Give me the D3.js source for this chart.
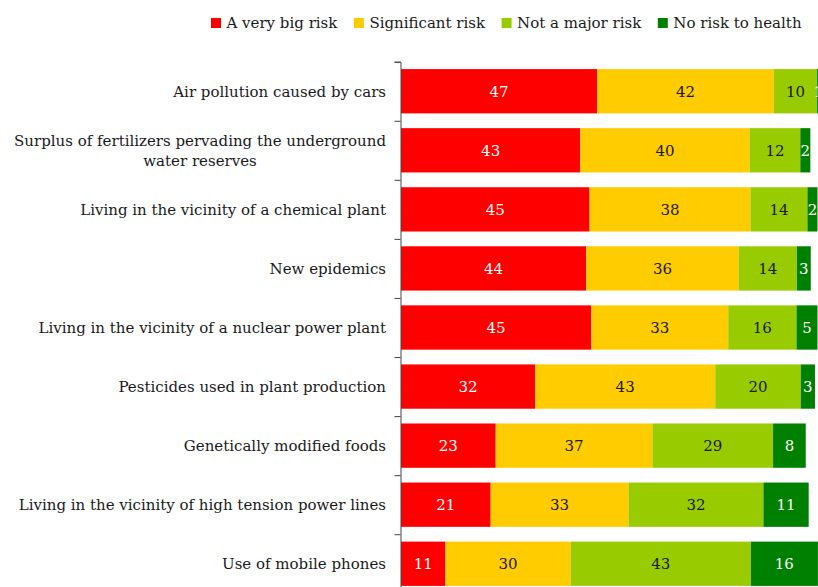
<!DOCTYPE html>
<html>
<head>
<meta charset="utf-8">
<script src="https://cdn.jsdelivr.net/npm/d3@7"></script>
<style>
  html, body { margin: 0; padding: 0; background: #fff; }
  svg { display: block; font-family: "DejaVu Serif", Georgia, serif; }
</style>
</head>
<body>
<svg id="chart" width="818" height="587"></svg>
<script>
const categories = [
  ["Air pollution caused by cars"],
  ["Surplus of fertilizers pervading the underground", "water reserves"],
  ["Living in the vicinity of a chemical plant"],
  ["New epidemics"],
  ["Living in the vicinity of a nuclear power plant"],
  ["Pesticides used in plant production"],
  ["Genetically modified foods"],
  ["Living in the vicinity of high tension power lines"],
  ["Use of mobile phones"]
];
const seriesNames = ["A very big risk", "Significant risk", "Not a major risk", "No risk to health"];
const veryBigRisk    = [46.8, 42.8, 45.0, 44.2, 45.4, 32.0, 22.6, 21.4, 10.6];
const significantRisk = [42.2, 40.4, 38.4, 36.4, 32.7, 43.0, 37.4, 32.9, 29.9];
const notMajorRisk   = [10.3, 12.1, 13.6, 13.9, 16.3, 20.4, 28.8, 32.2, 43.0];
const noRisk         = [0.7, 2.4, 2.4, 3.3, 5.0, 3.4, 7.8, 10.8, 16.0];
const colors = ["#ff0000", "#ffcc00", "#99cc00", "#008000"];
const labelColors = ["#ffffff", "#1a1a1a", "#1a1a1a", "#ffffff"];

const svg = d3.select("#chart");
const FS = 15;

const rows = categories.map((c, i) => ({
  idx: i,
  v0: veryBigRisk[i], v1: significantRisk[i], v2: notMajorRisk[i], v3: noRisk[i]
}));
const keys = ["v0", "v1", "v2", "v3"];
const stack = d3.stack().keys(keys)(rows);

const x = d3.scaleLinear().domain([0, 100]).range([401, 820]);
const y = d3.scaleBand().domain(d3.range(categories.length))
  .range([61.7, 593.3]).paddingInner(0.25).paddingOuter(0.125);
const yEdge = d3.scaleLinear().domain([0, categories.length]).range([61.7, 593.3]);

// bars
const layers = svg.append("g").selectAll("g").data(stack).join("g")
  .attr("fill", (d, i) => colors[i]);
layers.selectAll("rect").data(d => d).join("rect")
  .attr("x", d => x(d[0]))
  .attr("y", (d, j) => y(j))
  .attr("width", d => x(d[1]) - x(d[0]))
  .attr("height", y.bandwidth());

// value labels
stack.forEach((layer, si) => {
  svg.append("g").selectAll("text").data(layer).join("text")
    .attr("x", d => (x(d[0]) + x(d[1])) / 2)
    .attr("y", (d, j) => y(j) + y.bandwidth() / 2)
    .attr("dy", "0.36em")
    .attr("text-anchor", "middle")
    .attr("font-size", FS)
    .attr("fill", labelColors[si])
    .text(d => Math.round(d[1] - d[0]));
});

// axis
const axis = d3.axisLeft(yEdge).tickValues(d3.range(categories.length + 1))
  .tickFormat("").tickSize(6).tickSizeOuter(6);
const ag = svg.append("g").attr("transform", "translate(400.5,0)").call(axis);
ag.selectAll("path, line").attr("stroke", "#444");

// category labels
const catG = svg.append("g");
categories.forEach((lines, i) => {
  const cy = y(i) + y.bandwidth() / 2;
  const t = catG.append("text")
    .attr("font-size", FS)
    .attr("fill", "#1a1a1a")
    .attr("text-anchor", "middle");
  const lh = 20;
  const n = lines.length;
  lines.forEach((ln, k) => {
    t.append("tspan").attr("y", cy + (k - (n - 1) / 2) * lh).attr("dy", "0.36em").text(ln);
  });
  let maxW = 0;
  t.selectAll("tspan").each(function () { maxW = Math.max(maxW, this.getComputedTextLength()); });
  t.selectAll("tspan").attr("x", 386 - maxW / 2);
});

// legend
const lg = svg.append("g");
let lx = 211;
seriesNames.forEach((name, i) => {
  lg.append("rect").attr("x", lx).attr("y", 18).attr("width", 10).attr("height", 10).attr("fill", colors[i]);
  const t = lg.append("text").attr("x", lx + 15.5).attr("y", 28)
    .attr("font-size", FS).attr("fill", "#1a1a1a").text(name);
  lx += 15.5 + t.node().getComputedTextLength() + 16.5;
});
</script>
</body>
</html>
